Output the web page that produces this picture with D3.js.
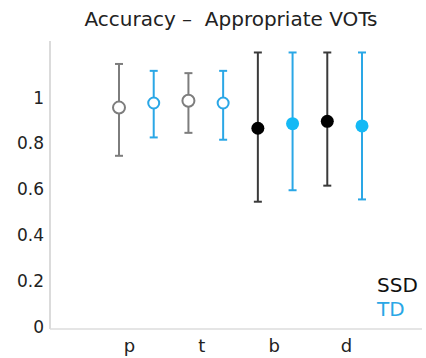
<!DOCTYPE html>
<html>
<head>
<meta charset="utf-8">
<script src="https://cdn.jsdelivr.net/npm/d3@7"></script>
<style>
  body { margin: 0; background: #fff; }
  text { font-family: "DejaVu Sans", sans-serif; fill: #222; }
</style>
</head>
<body>
<div id="chart"></div>
<script>
const categories = ['p', 't', 'b', 'd'];
const voiced = ['b', 'd'];
const groups = ['SSD', 'TD'];
const yTicks = [0, 0.2, 0.4, 0.6, 0.8, 1];

const ssdMean = [0.96, 0.99, 0.87, 0.90];
const ssdLow = [0.75, 0.85, 0.55, 0.62];
const ssdHigh = [1.15, 1.11, 1.20, 1.20];
const tdMean = [0.98, 0.98, 0.89, 0.88];
const tdLow = [0.83, 0.82, 0.60, 0.56];
const tdHigh = [1.12, 1.12, 1.20, 1.20];

const width = 426, height = 358;
const font = '"DejaVu Sans", sans-serif';
const colors = {
  SSD: { line: '#7d7d7d', lineFilled: '#3a3a3a', fill: '#000' },
  TD: { line: '#2aa7e6', lineFilled: '#2aa7e6', fill: '#14b9f5' }
};

const rows = [];
categories.forEach((c, i) => {
  rows.push({ cat: c, group: 'SSD', mean: ssdMean[i], low: ssdLow[i], high: ssdHigh[i] });
  rows.push({ cat: c, group: 'TD', mean: tdMean[i], low: tdLow[i], high: tdHigh[i] });
});

const svg = d3.select('#chart').append('svg')
  .attr('width', width)
  .attr('height', height);

const y = d3.scaleLinear().domain([0, 1.25]).range([328, 41]);
const x = d3.scalePoint()
  .domain(rows.map(d => d.cat + d.group))
  .range([119, 362]);
const xLabel = d3.scalePoint().domain(categories).range([129, 346]);

// title
svg.append('text')
  .attr('x', 231)
  .attr('y', 26)
  .attr('text-anchor', 'middle')
  .style('font-size', '20px')
  .style('white-space', 'pre')
  .text('Accuracy \u2013  Appropriate VOTs');

// axes
svg.append('line')
  .attr('x1', 50).attr('x2', 50)
  .attr('y1', y(1.25)).attr('y2', y(0) + 1)
  .attr('stroke', '#cfcfcf').attr('stroke-width', 1.5);
svg.append('line')
  .attr('x1', 50).attr('x2', 422)
  .attr('y1', y(0) + 1).attr('y2', y(0) + 1)
  .attr('stroke', '#dcdcdc').attr('stroke-width', 1.5);

const yAxis = svg.append('g')
  .attr('transform', 'translate(44,0)')
  .call(d3.axisLeft(y).tickValues(yTicks).tickSize(0).tickPadding(0).tickFormat(d3.format('~g')));
yAxis.select('.domain').remove();
yAxis.selectAll('text')
  .attr('dy', '0.36em')
  .attr('transform', 'translate(0,-1.5)')
  .style('font-size', '17px')
  .style('font-family', font)
  .attr('fill', '#222');

const xAxis = svg.append('g')
  .attr('transform', 'translate(0,339)')
  .call(d3.axisBottom(xLabel).tickSize(0).tickPadding(0));
xAxis.select('.domain').remove();
xAxis.selectAll('text')
  .attr('dy', '0.71em')
  .style('font-size', '18px')
  .style('font-family', font)
  .attr('fill', '#222');

// error bars
const bars = svg.append('g').selectAll('g')
  .data(rows)
  .enter().append('g')
  .attr('transform', d => `translate(${x(d.cat + d.group)},0)`);

const lineColor = d => voiced.includes(d.cat) ? colors[d.group].lineFilled : colors[d.group].line;

bars.append('line')
  .attr('y1', d => y(d.high))
  .attr('y2', d => y(d.low))
  .attr('stroke', lineColor)
  .attr('stroke-width', 2);

bars.selectAll('.cap')
  .data(d => [d.high, d.low].map(v => ({ v, d })))
  .enter().append('line')
  .attr('class', 'cap')
  .attr('x1', -4).attr('x2', 4)
  .attr('y1', e => y(e.v)).attr('y2', e => y(e.v))
  .attr('stroke', e => lineColor(e.d))
  .attr('stroke-width', 2);

bars.append('circle')
  .attr('cy', d => y(d.mean))
  .attr('r', d => voiced.includes(d.cat) ? 6.5 : (d.group === 'SSD' ? 6 : 5.5))
  .attr('fill', d => voiced.includes(d.cat) ? colors[d.group].fill : '#fff')
  .attr('stroke', d => voiced.includes(d.cat) ? colors[d.group].fill : colors[d.group].line)
  .attr('stroke-width', d => voiced.includes(d.cat) ? 0 : 2);

// legend
const legend = svg.append('g');
legend.selectAll('text')
  .data(groups)
  .enter().append('text')
  .attr('x', 377)
  .attr('y', (d, i) => 292 + i * 24)
  .style('font-size', '20px')
  .style('fill', d => d === 'SSD' ? '#111' : colors.TD.line)
  .text(d => d);
</script>
</body>
</html>
